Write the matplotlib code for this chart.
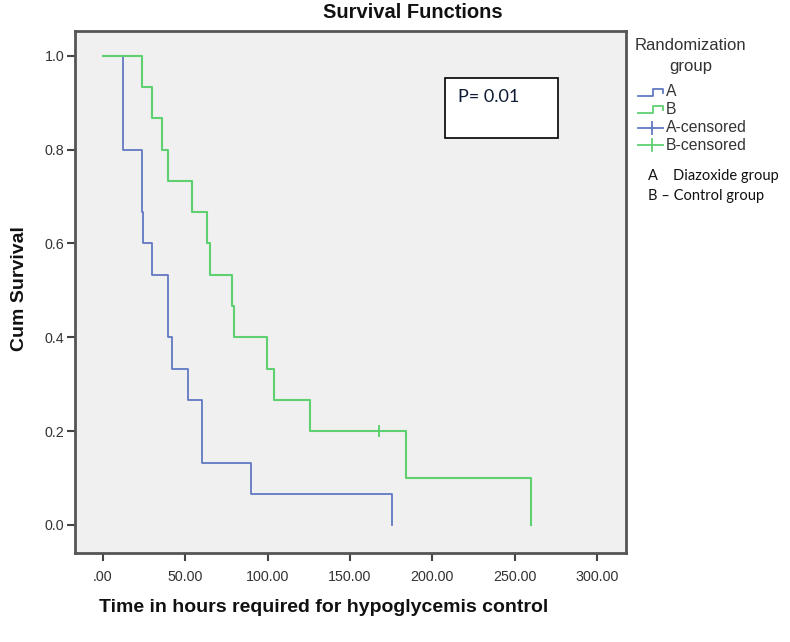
import matplotlib
matplotlib.use('Agg')
import matplotlib.pyplot as plt
from matplotlib.lines import Line2D
from matplotlib.patches import Rectangle

plt.rcParams['font.family'] = ['Liberation Sans', 'DejaVu Sans']

# Kaplan-Meier steps (hours, cumulative survival)
a_times = [0, 12, 23.5, 24.5, 29.6, 39.7, 41.7, 51.8, 60, 89.7, 175.8]
a_surv = [1.0, 0.8, 0.667, 0.6, 0.533, 0.4, 0.333, 0.267, 0.133, 0.067, 0.0]

b_times = [0, 23.5, 29.6, 35.6, 39.7, 53.9, 63, 65, 78.2, 79.6, 99.4, 103.9, 125.8, 183.9, 260]
b_surv = [1.0, 0.933, 0.867, 0.8, 0.733, 0.667, 0.6, 0.533, 0.467, 0.4, 0.333, 0.267, 0.2, 0.1, 0.0]
b_cens_t = [167.9]
b_cens_s = [0.2]

x_ticks = [0, 50, 100, 150, 200, 250, 300]
x_labels = ['.00', '50.00', '100.00', '150.00', '200.00', '250.00', '300.00']
y_ticks = [0.0, 0.2, 0.4, 0.6, 0.8, 1.0]
y_labels = ['0.0', '0.2', '0.4', '0.6', '0.8', '1.0']

legend_names = ['A', 'B', 'A-censored', 'B-censored']

blue = '#6179c2'
green = '#5fd070'
W, H = 790, 642


def px(x, y):
    # pixel position (top-left origin) -> figure fraction
    return x / W, (H - y) / H


fig = plt.figure(figsize=(7.9, 6.42), dpi=100)
ax = fig.add_axes([75 / W, (H - 553) / H, (626 - 75) / W, (553 - 31) / H])
ax.set_facecolor('#f0f0f0')

ax.step(a_times, a_surv, where='post', color=blue, lw=1.3)
ax.step(b_times, b_surv, where='post', color=green, lw=1.5)
ax.plot(b_cens_t, b_cens_s, '+', color=green, ms=8, mew=1.4)

ax.set_xlim(-17, 317.7)
ax.set_ylim(-0.0597, 1.0526)
ax.set_xticks(x_ticks)
ax.set_xticklabels(x_labels)
ax.set_yticks(y_ticks)
ax.set_yticklabels(y_labels)
ax.tick_params(axis='both', direction='out', length=6, width=1.5, color='#444444',
               labelsize=10.3, labelcolor='#333333')
ax.tick_params(axis='y', pad=1.5)
ax.tick_params(axis='x', pad=6.5)
for s in ax.spines.values():
    s.set_color('#555555')
    s.set_linewidth(2)

fig.text(*px(413, 13), 'Survival Functions', ha='center', va='center',
         fontsize=14.5, fontweight='bold', color='#111111')
fig.text(*px(20, 289), 'Cum Survival', ha='center', va='center', rotation=90,
         fontsize=14, fontweight='bold', color='#111111')
fig.text(*px(99, 608), 'Time in hours required for hypoglycemis control', ha='left', va='center',
         fontsize=14, fontweight='bold', color='#111111')

# P-value box
ax.add_artist(Rectangle(px(445, 138), 113 / W, 60 / H, transform=fig.transFigure,
                        facecolor='white', edgecolor='black', lw=1.2, zorder=5))
fig.text(*px(458, 97), 'P= 0.01', ha='left', va='center', fontsize=13,
         family=['Lato', 'DejaVu Sans'], color='#0d1a33', zorder=6)

# legend
fig.text(*px(635, 46), 'Randomization', ha='left', va='center', fontsize=12, color='#333333')
fig.text(*px(691, 67), 'group', ha='center', va='center', fontsize=12, color='#333333')
rows = [92, 109, 128, 145]
colors = [blue, green, blue, green]
for i, name in enumerate(legend_names):
    y = rows[i]
    if i < 2:
        xs = [638, 653, 653, 663, 663]
        ys = [y + 4, y + 4, y - 3.5, y - 3.5, y + 1]
        pts = [px(a, b) for a, b in zip(xs, ys)]
        fig.add_artist(Line2D([p[0] for p in pts], [p[1] for p in pts],
                              color=colors[i], lw=1.3, transform=fig.transFigure))
    else:
        p1, p2 = px(638, y), px(663, y)
        fig.add_artist(Line2D([p1[0], p2[0]], [p1[1], p2[1]], color=colors[i], lw=1.3,
                              transform=fig.transFigure))
        p3, p4 = px(652, y - 6), px(652, y + 6)
        fig.add_artist(Line2D([p3[0], p4[0]], [p3[1], p4[1]], color=colors[i], lw=1.3,
                              transform=fig.transFigure))
    fig.text(*px(666, y), name, ha='left', va='center', fontsize=11.3, color='#333333')

fig.text(*px(648, 176), 'A', ha='left', va='center', fontsize=10.5,
         family=['Lato', 'DejaVu Sans'], color='#111111')
fig.text(*px(673, 176), 'Diazoxide group', ha='left', va='center', fontsize=10.5,
         family=['Lato', 'DejaVu Sans'], color='#111111')
fig.text(*px(648, 196), 'B \u2013 Control group', ha='left', va='center', fontsize=10.5,
         family=['Lato', 'DejaVu Sans'], color='#111111')

fig.savefig('out.png', dpi=100)
